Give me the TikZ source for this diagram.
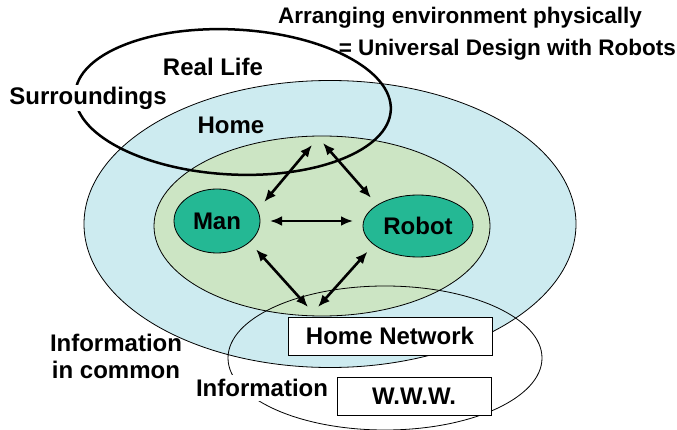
\documentclass[tikz,border=0pt]{standalone}
\usepackage{fontspec}
\setmainfont{Liberation Sans}
\usetikzlibrary{arrows.meta,shapes.geometric}
\definecolor{homeblue}{RGB}{205,235,240}
\definecolor{roomgreen}{RGB}{204,229,196}
\definecolor{agentteal}{RGB}{36,184,148}

\begin{document}
\begin{tikzpicture}[
  x=1pt, y=-1pt,
  font=\bfseries\fontsize{24}{27}\selectfont,
  zone/.style={draw=black, line width=0.8pt, ellipse, inner sep=0pt},
  agent/.style={draw=black, line width=0.8pt, ellipse, fill=agentteal, inner sep=0pt, outer sep=10pt},
  tag/.style={inner sep=2pt, align=center},
  headline/.style={inner sep=0pt, font=\bfseries\fontsize{22.5}{26}\selectfont},
  panel/.style={draw=black, line width=0.8pt, fill=white, inner sep=0pt},
  link/.style={{Latex[length=12pt,width=10pt]}-{Latex[length=12pt,width=10pt]}, line width=2.6pt}
]
\useasboundingbox (0,0) rectangle (677,430);
\node[zone, fill=homeblue, minimum width=492pt, minimum height=287pt] (home) at (330,224) {};
\node[zone, fill=roomgreen, minimum width=336pt, minimum height=180pt] (room) at (322,226) {};
\node[zone, line width=2.5pt, rotate=-3, minimum width=316pt, minimum height=145pt] (reallife) at (233,102) {};
\node[zone, minimum width=314pt, minimum height=144pt] (info) at (385,358) {};

\node[agent, minimum width=86pt, minimum height=64pt] (man) at (217,221) {Man};
\node[agent, minimum width=110pt, minimum height=62pt] (robot) at (418,226) {Robot};

\coordinate (upA) at (312,145);
\coordinate (upB) at (323,143);
\coordinate (lowA) at (308,307);
\coordinate (lowB) at (318,307);
\draw[link] (man.22) -- (upA);
\draw[link] (robot.149) -- (upB);
\draw[link] (man) -- (man -| robot.west);
\draw[link] (man.-36) -- (lowA);
\draw[link] (robot.207) -- (lowB);

\node[headline] (title1) at (460,18) {Arranging environment physically};
\node[headline, anchor=east] (title2) at (676,50) {= Universal Design with Robots};
\node[tag] (lblreal) at (213,67) {Real Life};
\node[tag, fill=white] (lblsurr) at (88,98) {Surroundings};
\node[tag] (lblhome) at (231,125) {Home};
\node[tag] (lblcommon) at (116,356) {Information\\in common};
\node[tag, fill=white, inner sep=4pt] (lblinfo) at (262,388) {Information};

\node[panel, minimum width=204pt, minimum height=38pt] (homenet) at (390,336) {Home Network};
\node[panel, minimum width=154pt, minimum height=38pt] (www) at (414,396) {\raisebox{-4pt}{W.W.W.}};
\end{tikzpicture}
\end{document}
